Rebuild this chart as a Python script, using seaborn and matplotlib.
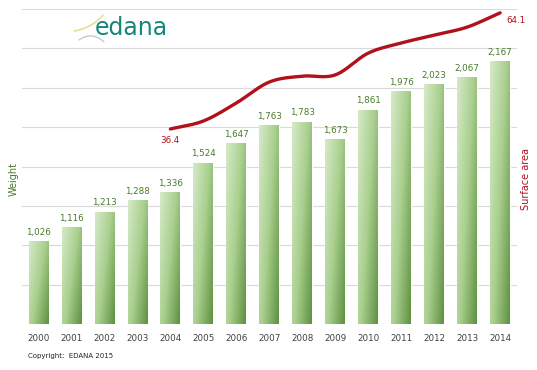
import numpy as np
import pandas as pd
import matplotlib
matplotlib.use("Agg")
import matplotlib.pyplot as plt
from matplotlib.colors import LinearSegmentedColormap
import seaborn as sns

# data
years = ["2000", "2001", "2002", "2003", "2004", "2005", "2006", "2007",
         "2008", "2009", "2010", "2011", "2012", "2013", "2014"]
weight = [1026, 1116, 1213, 1288, 1336, 1524, 1647, 1763,
          1783, 1673, 1861, 1976, 2023, 2067, 2167]
area_years = ["2004", "2005", "2006", "2007", "2008", "2009", "2010",
              "2011", "2012", "2013", "2014"]
surface_area = [36.4, 38.3, 42.6, 47.6, 49.0, 49.3, 54.5, 56.9, 58.8, 60.7, 64.1]

green_txt = "#4a7a2a"
red = "#b0111b"

sns.set_theme(style="white")
plt.rcParams['font.family'] = ['DejaVu Sans']

df = pd.DataFrame({"Year": years, "Weight": weight})

fig = plt.figure(figsize=(5.37, 3.70), dpi=100)
ax = fig.add_axes([0.041, 0.124, 0.921, 0.852])

sns.barplot(data=df, x="Year", y="Weight", ax=ax, width=0.6, color="#a8d08d",
            saturation=1, zorder=2)
ax.set_ylim(500, 2500)
ax.set_yticks(np.arange(500, 2501, 250))
ax.yaxis.grid(True, color="#d9d9d9", linewidth=0.8, zorder=0)
ax.set_axisbelow(True)
ax.set_xlabel("")
ax.set_ylabel("")
for s in ax.spines.values():
    s.set_visible(False)

# gradient fill for bars (light top-left to darker bottom-right)
cmap = LinearSegmentedColormap.from_list("g", ["#d6eac8", "#a9cf8e", "#5e9140"])
gx, gy = np.meshgrid(np.linspace(0, 1, 60), np.linspace(0, 1, 120))
grad = 0.65 * gx + 0.45 * (1 - gy)
for bar in ax.patches:
    x0, w = bar.get_x(), bar.get_width()
    top = bar.get_y() + bar.get_height()
    im = ax.imshow(grad, cmap=cmap, vmin=0, vmax=1.1, aspect="auto",
                   extent=[x0, x0 + w, top, 500], origin="upper", zorder=2)
    im.set_clip_path(bar)
    bar.set_facecolor("none")

for i, v in enumerate(weight):
    ax.text(i, v + 28, f"{v:,}", ha="center", va="bottom", fontsize=6.3,
            color=green_txt)
ax.set_xlim(-0.5, len(years) - 0.5)
ax.set_ylim(500, 2500)
ax.tick_params(axis="both", length=0)
ax.tick_params(axis="y", labelleft=False)
ax.tick_params(axis="x", labelsize=6.3, labelcolor="#404040", pad=7)

# surface area line on secondary axis, drawn smooth like the original
ax2 = ax.twinx()
ax2.set_ylim(-10.15, 65.05)
ax2.axis("off")
xs = np.array([years.index(y) for y in area_years], dtype=float)
ys = np.array(surface_area)
px = np.concatenate([[2 * xs[0] - xs[1]], xs, [2 * xs[-1] - xs[-2]]])
py = np.concatenate([[2 * ys[0] - ys[1]], ys, [2 * ys[-1] - ys[-2]]])
cx, cy = [], []
t = np.linspace(0, 1, 20)
for k in range(1, len(px) - 2):
    for arr, out in ((px, cx), (py, cy)):
        p0, p1, p2, p3 = arr[k - 1], arr[k], arr[k + 1], arr[k + 2]
        out.extend(0.5 * (2 * p1 + (-p0 + p2) * t + (2 * p0 - 5 * p1 + 4 * p2 - p3) * t ** 2
                          + (-p0 + 3 * p1 - 3 * p2 + p3) * t ** 3))
sns.lineplot(x=cx, y=cy, ax=ax2, color=red, linewidth=2.4, sort=False)
ax2.text(xs[0], ys[0] - 1.6, f"{ys[0]}", ha="center", va="top", fontsize=6.3,
         color=red)
ax2.text(xs[-1] + 0.18, ys[-1] - 1.8, f"{ys[-1]}", ha="left", va="center",
         fontsize=6.3, color=red)

fig.text(0.026, 0.515, "Weight", rotation=90, ha="center", va="center",
         fontsize=7, color=green_txt)
fig.text(0.98, 0.515, "Surface area", rotation=90, ha="center", va="center",
         fontsize=7, color=red)
fig.text(0.052, 0.033, "Copyright:  EDANA 2015", fontsize=5, color="#222222")

# logo
fig.text(0.176, 0.925, "edana", fontsize=17, color="#17877a", ha="left",
         va="center")
lax = fig.add_axes([70 / 537, 1 - 50 / 370, 40 / 537, 40 / 370])
lax.set_xlim(70, 110)
lax.set_ylim(50, 10)
lax.axis("off")
s = np.linspace(0, 1, 30)
lax.plot((1 - s) ** 2 * 74 + 2 * s * (1 - s) * 92 + s ** 2 * 103,
         (1 - s) ** 2 * 31 + 2 * s * (1 - s) * 28 + s ** 2 * 15,
         color="#e6dc8c", linewidth=1.1)
lax.plot((1 - s) ** 2 * 79 + 2 * s * (1 - s) * 92 + s ** 2 * 104,
         (1 - s) ** 2 * 40 + 2 * s * (1 - s) * 31 + s ** 2 * 42,
         color="#bcc6c6", linewidth=0.9)

fig.savefig("out.png", dpi=100, facecolor="white")
